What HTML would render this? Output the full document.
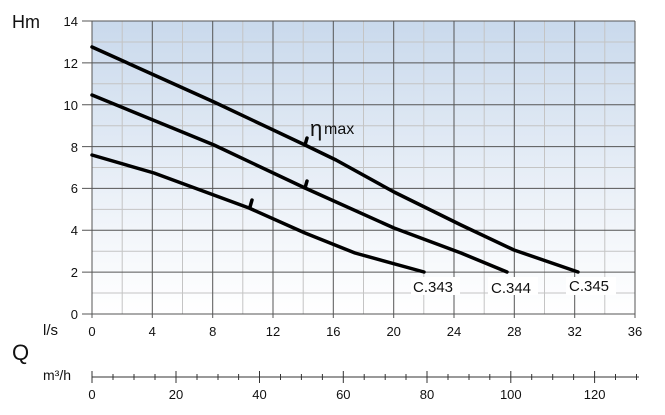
<!DOCTYPE html>
<html><head><meta charset="utf-8"><style>
body{margin:0;background:#fff;}
svg text{font-family:"Liberation Sans",sans-serif;fill:#111;}
</style></head><body>
<svg width="665" height="410" viewBox="0 0 665 410" xmlns="http://www.w3.org/2000/svg">
<defs><linearGradient id="g" x1="0" y1="0" x2="0" y2="1">
<stop offset="0" stop-color="#c9d9ec"/><stop offset="0.75" stop-color="#f4f7fb"/><stop offset="1" stop-color="#ffffff"/></linearGradient></defs>
<rect x="92" y="21" width="543" height="293" fill="url(#g)"/>
<g stroke="#c4c4c4" stroke-width="1">
<line x1="92" y1="42" x2="635" y2="42"/><line x1="92" y1="83.8" x2="635" y2="83.8"/><line x1="92" y1="125.7" x2="635" y2="125.7"/><line x1="92" y1="167.5" x2="635" y2="167.5"/><line x1="92" y1="209.4" x2="635" y2="209.4"/><line x1="92" y1="251.2" x2="635" y2="251.2"/><line x1="92" y1="293" x2="635" y2="293"/>
<line x1="122.2" y1="21" x2="122.2" y2="314"/><line x1="182.5" y1="21" x2="182.5" y2="314"/><line x1="242.8" y1="21" x2="242.8" y2="314"/><line x1="303.2" y1="21" x2="303.2" y2="314"/><line x1="363.5" y1="21" x2="363.5" y2="314"/><line x1="423.8" y1="21" x2="423.8" y2="314"/><line x1="484.2" y1="21" x2="484.2" y2="314"/><line x1="544.5" y1="21" x2="544.5" y2="314"/><line x1="604.8" y1="21" x2="604.8" y2="314"/>
</g>
<g stroke="#555" stroke-width="1">
<line x1="82" y1="21" x2="635" y2="21"/><line x1="82" y1="62.9" x2="635" y2="62.9"/><line x1="82" y1="104.7" x2="635" y2="104.7"/><line x1="82" y1="146.6" x2="635" y2="146.6"/><line x1="82" y1="188.4" x2="635" y2="188.4"/><line x1="82" y1="230.3" x2="635" y2="230.3"/><line x1="82" y1="272.1" x2="635" y2="272.1"/><line x1="82" y1="314" x2="635" y2="314"/>
<line x1="92" y1="21" x2="92" y2="318"/><line x1="152.3" y1="21" x2="152.3" y2="318"/><line x1="212.7" y1="21" x2="212.7" y2="318"/><line x1="273" y1="21" x2="273" y2="318"/><line x1="333.3" y1="21" x2="333.3" y2="318"/><line x1="393.7" y1="21" x2="393.7" y2="318"/><line x1="454" y1="21" x2="454" y2="318"/><line x1="514.3" y1="21" x2="514.3" y2="318"/><line x1="574.7" y1="21" x2="574.7" y2="318"/><line x1="635" y1="21" x2="635" y2="318"/>
</g>
<g fill="none" stroke="#000" stroke-width="3.5" stroke-linecap="round" stroke-linejoin="round">
<polyline points="92,47 214,102 305,145 336,160 394,192 461,225 514,250 578,272"/>
<polyline points="92,95 214,145 305,188 394,228 461,253 507,272"/>
<polyline points="92,155 154,173 249,208 305,233 355,253 424,272"/>
<line x1="305" y1="145" x2="307" y2="138"/><line x1="305" y1="188" x2="307" y2="181"/><line x1="250" y1="207" x2="252" y2="200"/>
</g>
<g fill="#fff"><rect x="411" y="277" width="49" height="18"/><rect x="488" y="277" width="50" height="18"/><rect x="566" y="277" width="50" height="18"/></g>
<g font-size="15"><text x="413" y="292">C.343</text><text x="491" y="293">C.344</text><text x="569" y="291">C.345</text></g>
<text x="310" y="136" font-size="22">η</text><text x="324" y="134" font-size="16">max</text>
<text x="12" y="28" font-size="18">Hm</text>
<g font-size="13" text-anchor="end"><text x="78" y="26">14</text><text x="78" y="68">12</text><text x="78" y="110">10</text><text x="78" y="152">8</text><text x="78" y="193">6</text><text x="78" y="235">4</text><text x="78" y="277">2</text><text x="78" y="319">0</text></g>
<g font-size="13" text-anchor="middle"><text x="92" y="336">0</text><text x="152.3" y="336">4</text><text x="212.7" y="336">8</text><text x="273" y="336">12</text><text x="333.3" y="336">16</text><text x="393.7" y="336">20</text><text x="454" y="336">24</text><text x="514.3" y="336">28</text><text x="574.7" y="336">32</text><text x="635" y="336">36</text></g>
<text x="43" y="335" font-size="15">l/s</text>
<text x="12" y="360" font-size="22">Q</text>
<text x="43" y="380" font-size="14">m³/h</text>
<g stroke="#333" stroke-width="1">
<line x1="92" y1="377" x2="639" y2="377"/>
<line x1="92" y1="371" x2="92" y2="383"/><line x1="176" y1="371" x2="176" y2="383"/><line x1="259.5" y1="371" x2="259.5" y2="383"/><line x1="343.3" y1="371" x2="343.3" y2="383"/><line x1="427" y1="371" x2="427" y2="383"/><line x1="510.8" y1="371" x2="510.8" y2="383"/><line x1="594.6" y1="371" x2="594.6" y2="383"/>
<line x1="113" y1="374" x2="113" y2="380"/><line x1="134" y1="374" x2="134" y2="380"/><line x1="155" y1="374" x2="155" y2="380"/>
<line x1="197" y1="374" x2="197" y2="380"/><line x1="218" y1="374" x2="218" y2="380"/><line x1="238.6" y1="374" x2="238.6" y2="380"/>
<line x1="280.5" y1="374" x2="280.5" y2="380"/><line x1="301.4" y1="374" x2="301.4" y2="380"/><line x1="322.4" y1="374" x2="322.4" y2="380"/>
<line x1="364.2" y1="374" x2="364.2" y2="380"/><line x1="385.2" y1="374" x2="385.2" y2="380"/><line x1="406" y1="374" x2="406" y2="380"/>
<line x1="448" y1="374" x2="448" y2="380"/><line x1="469" y1="374" x2="469" y2="380"/><line x1="489.8" y1="374" x2="489.8" y2="380"/>
<line x1="531.7" y1="374" x2="531.7" y2="380"/><line x1="552.7" y1="374" x2="552.7" y2="380"/><line x1="573.6" y1="374" x2="573.6" y2="380"/>
<line x1="615.5" y1="374" x2="615.5" y2="380"/><line x1="636.5" y1="374" x2="636.5" y2="380"/>
</g>
<g font-size="13" text-anchor="middle"><text x="92" y="399">0</text><text x="176" y="399">20</text><text x="259.5" y="399">40</text><text x="343.3" y="399">60</text><text x="427" y="399">80</text><text x="510.8" y="399">100</text><text x="594.6" y="399">120</text></g>
</svg>
</body></html>
